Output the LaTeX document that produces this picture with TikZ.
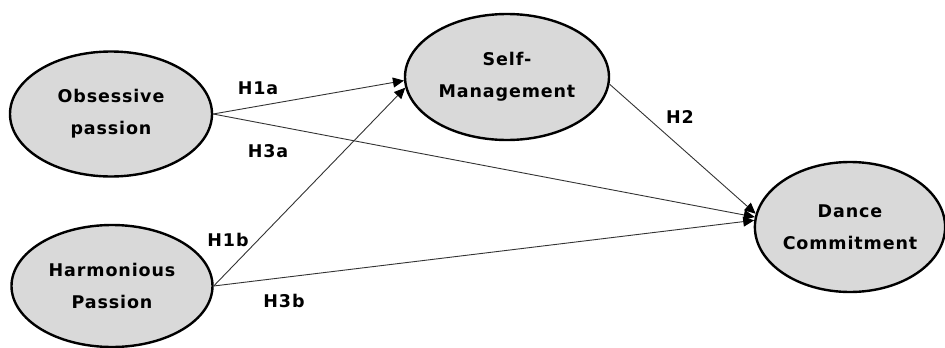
\documentclass[tikz,border=0pt]{standalone}
\usepackage{fontspec}
\setmainfont[LetterSpace=5]{DejaVu Sans}
\usetikzlibrary{shapes.geometric,arrows.meta}
\begin{document}
\begin{tikzpicture}[x=1pt,y=-1pt,
  construct/.style={ellipse,draw=black,line width=2.4pt,fill=boxgray,inner sep=0pt,
    minimum width=#1,font=\bfseries\fontsize{17.5}{32}\selectfont,align=center},
  path/.style={draw=black!80,line width=0.9pt,-{Triangle[length=11pt,width=10pt,fill=black,color=black]}},
  hlabel/.style={font=\bfseries\fontsize{17.5}{19}\selectfont,inner sep=0pt}]
\definecolor{boxgray}{HTML}{D9D9D9}
\useasboundingbox (0,0) rectangle (945,348);
\node[construct=202pt,minimum height=125pt] (op) at (111,114) {Obsessive\\passion};
\node[construct=201pt,minimum height=122pt] (hp) at (112,286) {Harmonious\\Passion};
\node[construct=204pt,minimum height=126pt] (sm) at (507,77) {Self-\\Management};
\node[construct=190pt,minimum height=130pt] (dc) at (850,227) {Dance\\Commitment};
\draw[path] (op.east) -- (sm.182);
\draw[path] (op.east) -- (dc.174);
\draw[path] (hp.east) -- (sm.186);
\draw[path] (hp.east) -- (dc.176);
\draw[path] (sm.-4) -- (dc.172);
\node[hlabel] (h1a) at (258,88) {H1a};
\node[hlabel] (h3a) at (268,151) {H3a};
\node[hlabel] (h1b) at (228,240) {H1b};
\node[hlabel] (h3b) at (284,301) {H3b};
\node[hlabel] (h2) at (680,117) {H2};
\end{tikzpicture}
\end{document}
